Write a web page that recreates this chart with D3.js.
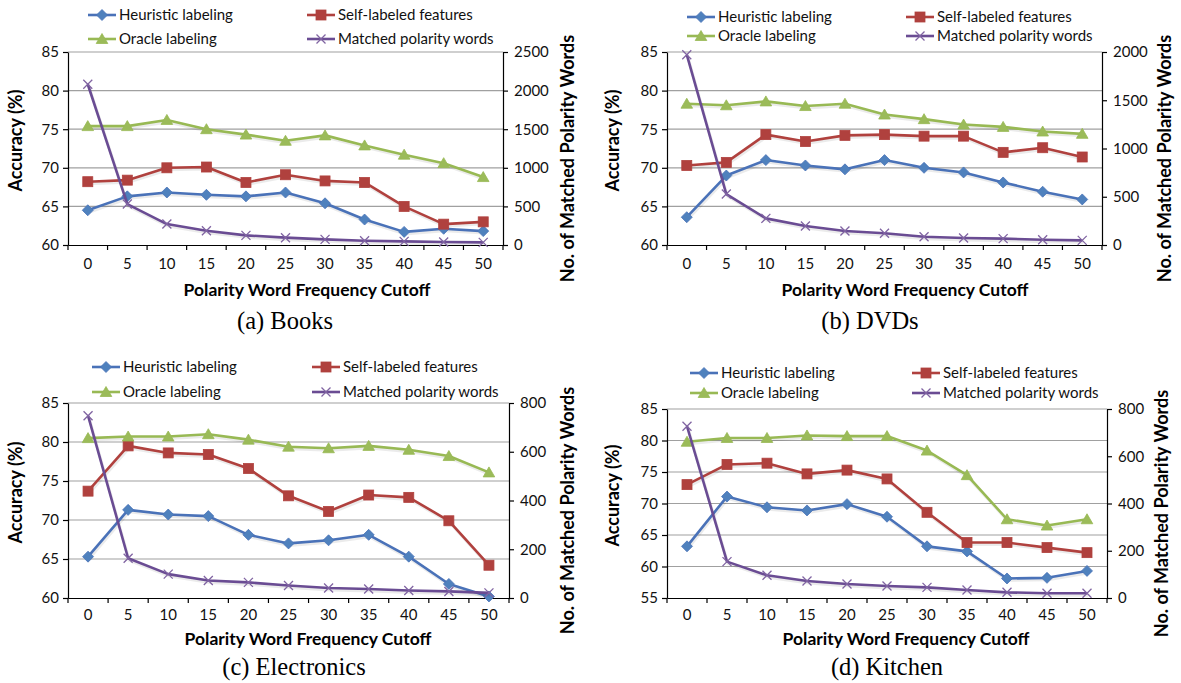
<!DOCTYPE html>
<html><head><meta charset="utf-8">
<script src="https://cdn.jsdelivr.net/npm/d3@7"></script>
<style>body{margin:0;background:#fff}svg{display:block}</style>
</head><body>
<svg id="c" width="1181" height="683"></svg>
<script>
const cutoffs = [0,5,10,15,20,25,30,35,40,45,50];
const seriesNames = ["Heuristic labeling","Self-labeled features","Oracle labeling","Matched polarity words"];

const booksHeuristic = [64.5,66.3,66.8,66.5,66.3,66.8,65.4,63.3,61.7,62.1,61.8];
const booksSelf      = [68.2,68.4,70.0,70.1,68.1,69.1,68.3,68.1,65.0,62.7,63.0];
const booksOracle    = [75.4,75.4,76.2,75.0,74.3,73.5,74.2,72.9,71.7,70.6,68.8];
const booksMatched   = [2082,530,271,185,125,95,73,56,47,39,34];

const dvdsHeuristic = [63.6,69.0,71.0,70.3,69.8,71.0,70.0,69.4,68.1,66.9,65.9];
const dvdsSelf      = [70.3,70.7,74.3,73.4,74.2,74.3,74.1,74.1,72.0,72.6,71.4];
const dvdsOracle    = [78.3,78.1,78.6,78.0,78.3,76.9,76.3,75.6,75.3,74.7,74.4];
const dvdsMatched   = [1972,528,276,197,145,121,86,72,66,55,48];

const elecHeuristic = [65.3,71.3,70.7,70.5,68.1,67.0,67.4,68.1,65.3,61.8,60.2];
const elecSelf      = [73.7,79.5,78.6,78.4,76.6,73.1,71.1,73.2,72.9,69.9,64.2];
const elecOracle    = [80.5,80.7,80.7,81.0,80.3,79.4,79.2,79.5,79.0,78.2,76.1];
const elecMatched   = [748,163,98,72,64,51,41,37,31,27,21];

const kitchenHeuristic = [63.2,71.1,69.4,68.9,69.9,67.9,63.2,62.4,58.1,58.2,59.3];
const kitchenSelf      = [73.0,76.2,76.4,74.7,75.3,73.9,68.6,63.8,63.8,63.0,62.2];
const kitchenOracle    = [79.8,80.4,80.4,80.8,80.7,80.7,78.4,74.5,67.5,66.5,67.5];
const kitchenMatched   = [727,154,96,72,59,51,45,34,24,20,20];

const accTicksA = [60,65,70,75,80,85];
const accTicksB = [55,60,65,70,75,80,85];
const wordTicksBooks = [0,500,1000,1500,2000,2500];
const wordTicksDvds = [0,500,1000,1500,2000];
const wordTicksSmall = [0,200,400,600,800];
const captions = ["(a) Books","(b) DVDs","(c) Electronics","(d) Kitchen"];
const xTitle = "Polarity Word Frequency Cutoff";
const yTitle = "Accuracy (%)";
const y2Title = "No. of Matched Polarity Words";

const colors = ["#4A72B8","#B0413E","#98B954","#6A4C93"];
const markerFill = ["#4F81BD","#B0413E","#9BBB59","#8064A2"];

const panels = [
  {h:booksHeuristic,s:booksSelf,o:booksOracle,m:booksMatched,acc:accTicksA,words:wordTicksBooks,cap:captions[0],
   L:68,R:503,T:52,B:245, leg:{c1:88,c2:307,r1:15,r2:39}, yt:16, y2t:568, xtX:307, xtY:290, capX:285, capY:320, tickY:264},
  {h:dvdsHeuristic,s:dvdsSelf,o:dvdsOracle,m:dvdsMatched,acc:accTicksA,words:wordTicksDvds,cap:captions[1],
   L:667,R:1102,T:52,B:245, leg:{c1:687,c2:906,r1:17,r2:36}, yt:613, y2t:1165, xtX:905, xtY:290, capX:870, capY:320, tickY:264},
  {h:elecHeuristic,s:elecSelf,o:elecOracle,m:elecMatched,acc:accTicksA,words:wordTicksSmall,cap:captions[2],
   L:68,R:509,T:403,B:598, leg:{c1:92,c2:312,r1:367,r2:392}, yt:16, y2t:568, xtX:308, xtY:639, capX:294, capY:666, tickY:615},
  {h:kitchenHeuristic,s:kitchenSelf,o:kitchenOracle,m:kitchenMatched,acc:accTicksB,words:wordTicksSmall,cap:captions[3],
   L:667,R:1107,T:409,B:598, leg:{c1:690,c2:912,r1:373,r2:393}, yt:613, y2t:1162, xtX:906, xtY:639, capX:887, capY:666, tickY:615}
];

const svg = d3.select("#c");
const FONT = "Lato, 'Open Sans', sans-serif";

function marker(g, type, x, y){
  if(type===0){
    g.append("path").attr("d",`M${x},${y-5.5}L${x+5.5},${y}L${x},${y+5.5}L${x-5.5},${y}Z`)
     .attr("fill",markerFill[0]).attr("stroke",colors[0]).attr("stroke-width",0.8);
  } else if(type===1){
    g.append("rect").attr("x",x-5).attr("y",y-5).attr("width",10).attr("height",10)
     .attr("fill",markerFill[1]).attr("stroke",colors[1]).attr("stroke-width",0.8);
  } else if(type===2){
    g.append("path").attr("d",`M${x},${y-5.5}L${x+5.8},${y+4.5}L${x-5.8},${y+4.5}Z`)
     .attr("fill",markerFill[2]).attr("stroke",colors[2]).attr("stroke-width",0.8);
  } else {
    g.append("path").attr("d",`M${x-4.5},${y-4.5}L${x+4.5},${y+4.5}M${x+4.5},${y-4.5}L${x-4.5},${y+4.5}`)
     .attr("stroke",markerFill[3]).attr("stroke-width",1.3).attr("fill","none");
  }
}

panels.forEach(p=>{
  const g = svg.append("g");
  const x = d3.scaleBand().domain(cutoffs).range([p.L,p.R]);
  const y = d3.scaleLinear().domain([p.acc[0],p.acc[p.acc.length-1]]).range([p.B,p.T]);
  const y2 = d3.scaleLinear().domain([0,p.words[p.words.length-1]]).range([p.B,p.T]);
  const cx = d => x(d)+x.bandwidth()/2;

  g.append("g").selectAll("line").data(p.acc.slice(1)).join("line")
    .attr("x1",p.L).attr("x2",p.R).attr("y1",d=>y(d)).attr("y2",d=>y(d))
    .attr("stroke","#a0a0a0").attr("stroke-width",1.2);

  const ax = g.append("g").attr("transform",`translate(${p.L},0)`)
    .call(d3.axisLeft(y).tickValues(p.acc).tickFormat(d3.format("d")).tickSize(5).tickPadding(4).tickSizeOuter(0));
  const ax2 = g.append("g").attr("transform",`translate(${p.R},0)`)
    .call(d3.axisRight(y2).tickValues(p.words).tickFormat(d3.format("d")).tickSize(5).tickPadding(6).tickSizeOuter(0));
  const axb = g.append("g").attr("transform",`translate(0,${p.B})`)
    .call(d3.axisBottom(x).tickSize(0).tickPadding(0).tickSizeOuter(0));
  [ax,ax2].forEach(a=>{
    a.selectAll("text").attr("font-family",FONT).attr("font-size",15).attr("fill","#111");
    a.select(".domain").attr("stroke","#000").attr("stroke-width",1.2);
    a.selectAll(".tick line").attr("stroke","#000").attr("stroke-width",1.2);
  });
  axb.select(".domain").attr("stroke","#000").attr("stroke-width",1.2);
  axb.selectAll(".tick line").remove();
  axb.selectAll(".tick text").attr("font-family",FONT).attr("font-size",15).attr("fill","#111")
    .attr("y",p.tickY-p.B).attr("dy","0.35em");
  const bounds = cutoffs.map(d=>x(d)).concat([p.R]);
  g.append("g").selectAll("line").data(bounds).join("line")
    .attr("x1",d=>d).attr("x2",d=>d).attr("y1",p.B).attr("y2",p.B+5)
    .attr("stroke","#000").attr("stroke-width",1.2);

  const sets = [
    {vals:p.h, ys:y, t:0},
    {vals:p.s, ys:y, t:1},
    {vals:p.o, ys:y, t:2},
    {vals:p.m, ys:y2, t:3}
  ];
  sets.forEach(sr=>{
    const line = d3.line().x((d,i)=>cx(cutoffs[i])).y(d=>sr.ys(d));
    g.append("path").datum(sr.vals).attr("d",line).attr("fill","none")
      .attr("stroke","#000").attr("stroke-opacity",0.08).attr("stroke-width",3)
      .attr("transform","translate(1,2)");
    g.append("path").datum(sr.vals).attr("d",line).attr("fill","none")
      .attr("stroke",colors[sr.t]).attr("stroke-width",2.6).attr("stroke-linejoin","round");
    sr.vals.forEach((v,i)=>marker(g,sr.t,cx(cutoffs[i]),sr.ys(v)));
  });

  const legPos = [[p.leg.c1,p.leg.r1],[p.leg.c2,p.leg.r1],[p.leg.c1,p.leg.r2],[p.leg.c2,p.leg.r2]];
  seriesNames.forEach((n,i)=>{
    const [lx,ly] = legPos[i];
    g.append("line").attr("x1",lx).attr("x2",lx+28).attr("y1",ly).attr("y2",ly)
      .attr("stroke",colors[i]).attr("stroke-width",2.6);
    marker(g,i,lx+14,ly);
    g.append("text").attr("x",lx+31).attr("y",ly).attr("dy","0.35em")
      .attr("font-family",FONT).attr("font-size",15).attr("fill","#111").text(n);
  });

  g.append("text").attr("transform",`translate(${p.yt},${(p.T+p.B)/2-8}) rotate(-90)`)
    .attr("text-anchor","middle").attr("dy","0.35em").attr("font-family",FONT)
    .attr("font-weight","bold").attr("font-size",18).attr("fill","#000").text(yTitle);
  g.append("text").attr("transform",`translate(${p.y2t},${(p.T+p.B)/2+10}) rotate(-90)`)
    .attr("text-anchor","middle").attr("dy","0.35em").attr("font-family",FONT)
    .attr("font-weight","bold").attr("font-size",18).attr("fill","#000").text(y2Title);
  g.append("text").attr("x",p.xtX).attr("y",p.xtY).attr("dy","0.35em")
    .attr("text-anchor","middle").attr("font-family",FONT)
    .attr("font-weight","bold").attr("font-size",17.5).attr("fill","#000").text(xTitle);
  g.append("text").attr("x",p.capX).attr("y",p.capY).attr("dy","0.35em")
    .attr("text-anchor","middle").attr("font-family","'Liberation Serif','Times New Roman',serif")
    .attr("font-size",24.5).attr("fill","#000").text(p.cap);
});
</script>
</body></html>
